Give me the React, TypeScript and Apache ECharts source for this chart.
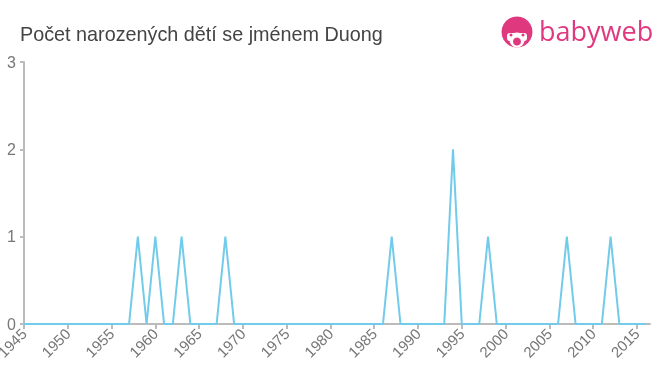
import React, { useEffect, useRef } from "react";
import * as echarts from "echarts";

const startYear = 1945;
const endYear = 2016;
const peakYears = [1958, 1960, 1963, 1968, 1987, 1994, 1998, 2007, 2012];
const peakValues = [1, 1, 1, 1, 1, 2, 1, 1, 1];
const yTicks = [0, 1, 2, 3];
const titleText = "Počet narozených dětí se jménem Duong";

export default function App() {
  const ref = useRef<HTMLDivElement>(null);
  useEffect(() => {
    if (!ref.current) return;
    const chart = echarts.init(ref.current, undefined, { renderer: "svg" });
    const data: [number, number][] = [];
    for (let y = startYear; y <= endYear; y++) {
      const i = peakYears.indexOf(y);
      data.push([y, i >= 0 ? peakValues[i] : 0]);
    }
    chart.setOption({
      animation: false,
      grid: { left: 24, right: 10, top: 62, bottom: 51, containLabel: false, outerBoundsMode: "none" },
      title: {
        text: titleText,
        left: 15,
        top: 19,
        textStyle: { fontFamily: "Liberation Sans, Arial, sans-serif", fontSize: 19.8, fontWeight: "normal", color: "#444" },
      },
      graphic: [
        { type: "circle", shape: { cx: 517, cy: 32, r: 15.5 }, style: { fill: "#e0387f" } },
        { type: "circle", shape: { cx: 517, cy: 40, r: 7.5 }, style: { fill: "#fff" } },
        { type: "rect", shape: { x: 507, y: 33, width: 20, height: 8, r: 3 }, style: { fill: "#fff" } },
        { type: "circle", shape: { cx: 517, cy: 41.5, r: 4 }, style: { fill: "#e0387f" } },
        { type: "circle", shape: { cx: 511, cy: 35, r: 1.5 }, style: { fill: "#e0387f" } },
        { type: "circle", shape: { cx: 523, cy: 35, r: 1.5 }, style: { fill: "#e0387f" } },
        {
          type: "text",
          x: 539,
          y: 17,
          style: { text: "babyweb", fill: "#e0387f", fontSize: 27, fontFamily: "Open Sans, Liberation Sans, sans-serif", fontWeight: "normal" },
        },
      ],
      xAxis: {
        type: "value",
        min: startYear,
        max: endYear + 0.5,
        interval: 5,
        axisLine: { lineStyle: { color: "#bbb", width: 2 } },
        axisTick: { show: true, length: 5, lineStyle: { color: "#bbb", width: 2 } },
        splitLine: { show: false },
        axisLabel: {
          rotate: 45,
          color: "#777",
          fontSize: 15,
          fontFamily: "Liberation Sans, Arial, sans-serif",
          margin: 7,
          showMaxLabel: false,
          formatter: (v: number) => String(v),
        },
      },
      yAxis: {
        type: "value",
        min: 0,
        max: 3,
        interval: 1,
        axisLine: { show: true, lineStyle: { color: "#bbb", width: 2 } },
        axisTick: { show: true, length: 4, lineStyle: { color: "#bbb", width: 2 } },
        splitLine: { show: false },
        axisLabel: {
          color: "#777",
          fontSize: 16,
          fontFamily: "Liberation Sans, Arial, sans-serif",
          margin: 8,
          formatter: (v: number) => (yTicks.includes(v) ? String(v) : ""),
        },
      },
      series: [
        {
          type: "line",
          data,
          symbol: "none",
          lineStyle: { color: "#72cbea", width: 2 },
          z: 3,
        },
      ],
    });
    return () => chart.dispose();
  }, []);
  return <div ref={ref} style={{ position: "fixed", left: 0, top: 0, width: 660, height: 375 }} />;
}
